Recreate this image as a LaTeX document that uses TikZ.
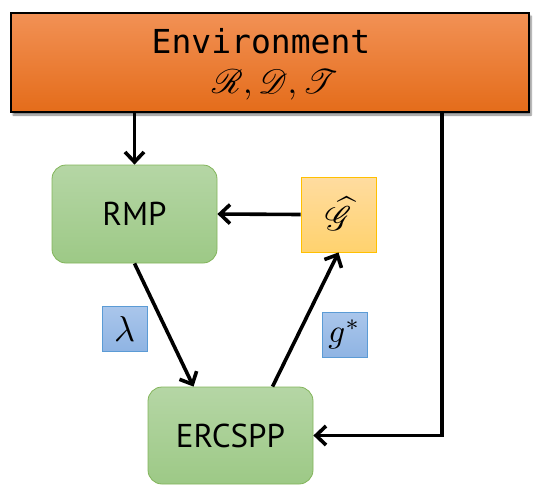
\documentclass[tikz,border=0pt]{standalone}
\usepackage{fontspec}
\usepackage{graphicx}
\usepackage{mathrsfs}
\usepackage{amsmath}
\usetikzlibrary{arrows.meta,shadows.blur}
\newfontfamily\envfont{DejaVu Sans Mono}
\newfontfamily\boxfont{PT Sans}
\definecolor{envtop}{RGB}{242,145,85}
\definecolor{envbot}{RGB}{228,108,26}
\definecolor{grtop}{RGB}{181,214,165}
\definecolor{grbot}{RGB}{157,201,134}
\definecolor{grline}{RGB}{130,180,90}
\definecolor{yetop}{RGB}{255,220,160}
\definecolor{yebot}{RGB}{255,210,110}
\definecolor{yeline}{RGB}{255,192,0}
\definecolor{bltop}{RGB}{170,198,235}
\definecolor{blbot}{RGB}{143,180,227}
\definecolor{blline}{RGB}{91,155,213}
\tikzset{
  envbox/.style={draw=black, line width=2.5pt, top color=envtop, bottom color=envbot,
    minimum width=518pt, minimum height=99pt, inner sep=0pt,
    blur shadow={shadow xshift=2pt, shadow yshift=-3pt, shadow opacity=50, shadow blur steps=6}},
  greenbox/.style={draw=grline, line width=0.8pt, top color=grtop, bottom color=grbot,
    rounded corners=14pt, minimum width=165pt, minimum height=98pt, inner sep=0pt,
    font=\boxfont\fontsize{33}{38}\selectfont},
  yellowbox/.style={draw=yeline, line width=0.8pt, top color=yetop, bottom color=yebot,
    minimum width=75pt, minimum height=75pt, inner sep=0pt},
  bluebox/.style={draw=blline, line width=0.8pt, top color=bltop, bottom color=blbot,
    minimum width=45pt, minimum height=45pt, inner sep=0pt},
  arr/.style={line width=3.6pt, -{Straight Barb[length=10pt,width=19pt]}},
}
\begin{document}
\begin{tikzpicture}[x=1pt,y=-1pt]
\useasboundingbox (0,0) rectangle (540,485);
\node[envbox] (env) at (270,62.5) {};
\node[font=\envfont\fontsize{33}{38}\selectfont] (envt) at (261,41) {Environment};
\node[inner sep=0pt] (rdt) at (275,85) {\scalebox{3.4}{$\mathscr{R},\mathscr{D},\mathscr{T}$}};
\node[greenbox] (rmp) at (134.5,214) {RMP};
\node[yellowbox] (g) at (338.5,214.5) {\raisebox{2pt}{\scalebox{3.4}{$\widehat{\mathscr{G}}$}}};
\node[bluebox] (lam) at (124.5,328.5) {\scalebox{3.6}{$\lambda$}};
\node[bluebox] (gs) at (344.5,334.5) {\scalebox{3.3}{$g^{*}$}};
\node[greenbox, minimum height=97pt] (erc) at (230.5,435.5) {ERCSPP};
\coordinate (corner) at (442,435.5);
\draw[arr] (env.south -| rmp.north) -- (rmp.north);
\draw[arr] (g.west) -- (rmp.east);
\draw[arr] (rmp.south) -- ([xshift=-37pt]erc.north);
\draw[arr] ([xshift=42pt]erc.north) -- (g.south);
\draw[arr, line join=miter] (env.south -| corner) -- (corner) -- (erc.east);
\end{tikzpicture}
\end{document}
